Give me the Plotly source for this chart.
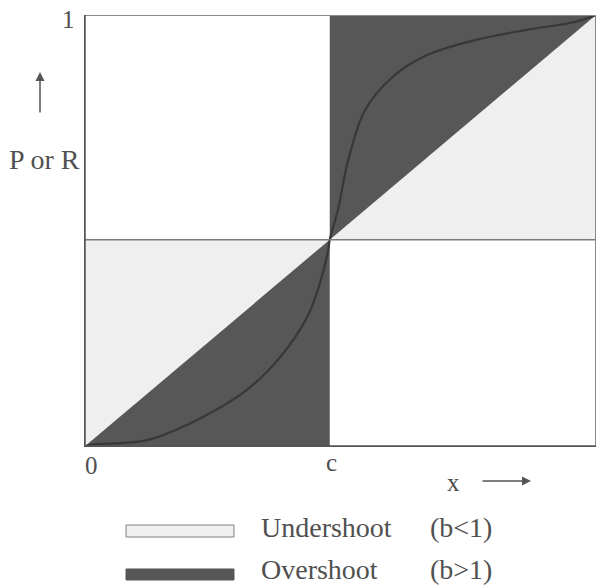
import plotly.graph_objects as go

# ---- data ----
c = 0.48
curve_x = [0, 0.012, 0.123, 0.221, 0.318, 0.383, 0.436, 0.461, 0.477, 0.48,
           0.496, 0.516, 0.549, 0.602, 0.666, 0.764, 0.861, 0.959, 1.0]
curve_y = [0, 0.005, 0.016, 0.0625, 0.132, 0.208, 0.301, 0.380, 0.456, 0.48,
           0.549, 0.664, 0.780, 0.856, 0.905, 0.942, 0.965, 0.984, 1.0]
legend_names = ["Undershoot", "Overshoot"]
legend_conds = ["(b<1)", "(b>1)"]
tick_labels = ["0", "c", "1"]

DARK = "#575757"
LIGHT = "#efefef"
TXT = "#505050"
FONT = "Liberation Serif"

W, H = 597, 585
L, R, T, B = 84, 1, 15, 138
PW, PH = W - L - R, H - T - B


def px(xp, yp):
    return (xp - L) / PW, (T + PH - yp) / PH


fig = go.Figure()

# fills
fig.add_trace(go.Scatter(x=[c, 1, 1, c], y=[c, c, 1, c], fill="toself",
                         fillcolor=LIGHT, line=dict(width=0), mode="lines",
                         hoverinfo="skip", showlegend=False))
fig.add_trace(go.Scatter(x=[0, 0, c, 0], y=[0, c, c, 0], fill="toself",
                         fillcolor=LIGHT, line=dict(width=0), mode="lines",
                         hoverinfo="skip", showlegend=False))
fig.add_trace(go.Scatter(x=[c, c, 1, c], y=[c, 1, 1, c], fill="toself",
                         fillcolor=DARK, line=dict(width=0), mode="lines",
                         hoverinfo="skip", showlegend=False))
fig.add_trace(go.Scatter(x=[0, c, c, 0], y=[0, 0, c, 0], fill="toself",
                         fillcolor=DARK, line=dict(width=0), mode="lines",
                         hoverinfo="skip", showlegend=False))
# S curve
fig.add_trace(go.Scatter(x=curve_x, y=curve_y, mode="lines",
                         line=dict(color="#383838", width=2.2, shape="spline", smoothing=1.0),
                         hoverinfo="skip", showlegend=False))

shapes = [
    dict(type="line", xref="x", yref="y", x0=0, x1=1, y0=c, y1=c,
         line=dict(color="#7a7a7a", width=1.5)),
    dict(type="line", xref="x", yref="y", x0=0, x1=1, y0=1, y1=1,
         line=dict(color="#8a8a8a", width=2)),
    dict(type="line", xref="x", yref="y", x0=1, x1=1, y0=0, y1=1,
         line=dict(color="#8a8a8a", width=2)),
    dict(type="line", xref="x", yref="y", x0=0, x1=1, y0=0, y1=0,
         line=dict(color="#555555", width=3.5)),
    dict(type="line", xref="x", yref="y", x0=0, x1=0, y0=0, y1=1,
         line=dict(color="#555555", width=3.5)),
]

# legend swatches
sw = [(525, 537, LIGHT, "#808080"), (569, 580, DARK, DARK)]
for y0p, y1p, fc, lc in sw:
    x0, y0 = px(126, y1p)
    x1, y1 = px(234, y0p)
    shapes.append(dict(type="rect", xref="paper", yref="paper", x0=x0, x1=x1,
                       y0=y0, y1=y1, fillcolor=fc, line=dict(color=lc, width=1)))

ann = []


def text(t, xp, yp, size, xanchor="center"):
    x, y = px(xp, yp)
    ann.append(dict(text=t, x=x, y=y, xref="paper", yref="paper", showarrow=False,
                    xanchor=xanchor, yanchor="middle",
                    font=dict(family=FONT, size=size, color=TXT)))


text(tick_labels[0], 91, 465, 25)
text(tick_labels[1], 331, 462, 25)
text(tick_labels[2], 593, 463, 25, "left")
text("1", 68, 19, 25)
text("P or R", 82, 159, 28, "right")
text("x", 453, 482, 25)
for i, (n, cnd) in enumerate(zip(legend_names, legend_conds)):
    yp = 527 + i * 42
    text(n, 259, yp, 28, "left")
    text(cnd, 428, yp, 28, "left")

# arrows
hx, hy = px(40, 72)
ann.append(dict(x=hx, y=hy, xref="paper", yref="paper", ax=0, ay=42,
                showarrow=True, arrowhead=2, arrowsize=1.2, arrowwidth=1.5,
                arrowcolor="#555555", text=""))
hx, hy = px(531, 481)
ann.append(dict(x=hx, y=hy, xref="paper", yref="paper", ax=-50, ay=0,
                showarrow=True, arrowhead=2, arrowsize=1.2, arrowwidth=1.5,
                arrowcolor="#555555", text=""))

fig.update_layout(
    width=W, height=H,
    margin=dict(l=L, r=R, t=T, b=B, pad=0),
    paper_bgcolor="white", plot_bgcolor="white",
    xaxis=dict(range=[0, 1], visible=False, fixedrange=True),
    yaxis=dict(range=[0, 1], visible=False, fixedrange=True),
    shapes=shapes, annotations=ann, showlegend=False,
)

fig.write_html("out.html", config={"displayModeBar": False},
               post_script="document.body.style.margin='0';document.body.style.overflow='hidden';")
